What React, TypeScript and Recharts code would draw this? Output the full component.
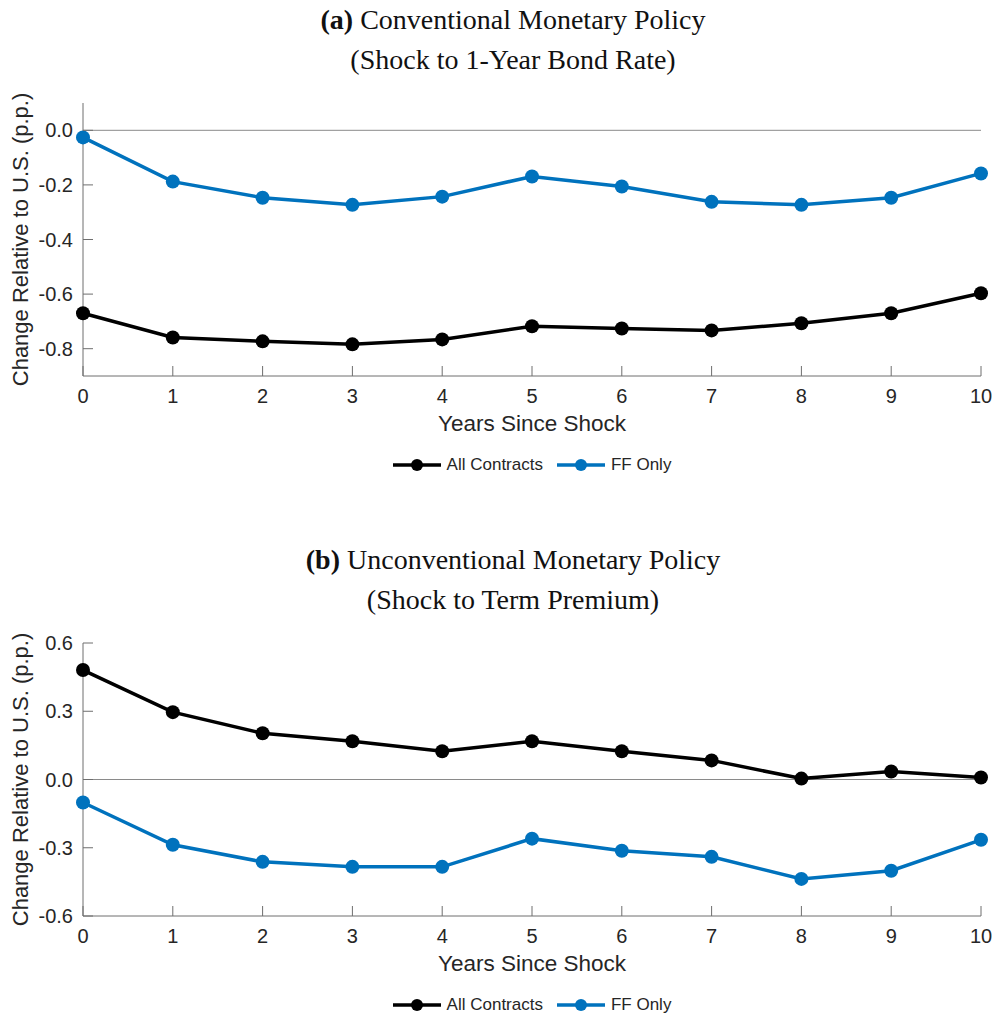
import { LineChart, Line, XAxis, YAxis, ReferenceLine, Legend, Label } from 'recharts';

const years = [0, 1, 2, 3, 4, 5, 6, 7, 8, 9, 10];

// (a) shock to the 1-year bond rate
const convAll = [-0.67, -0.759, -0.773, -0.784, -0.766, -0.718, -0.726, -0.733, -0.707, -0.67, -0.597];
const convFF = [-0.026, -0.188, -0.247, -0.273, -0.243, -0.169, -0.206, -0.262, -0.273, -0.247, -0.158];
const convTicks = [-0.8, -0.6, -0.4, -0.2, 0];

// (b) shock to the term premium
const uncAll = [0.481, 0.296, 0.203, 0.168, 0.124, 0.168, 0.124, 0.084, 0.004, 0.035, 0.009];
const uncFF = [-0.101, -0.287, -0.362, -0.384, -0.384, -0.26, -0.313, -0.34, -0.437, -0.401, -0.265];
const uncTicks = [-0.6, -0.3, 0, 0.3, 0.6];

const BLACK = '#000000';
const BLUE = '#0072BD';
const AXIS = '#6e6e6e';
const TEXT = '#262626';
const SANS = '"Liberation Sans", Arial, Helvetica, sans-serif';
const SERIF = '"Palatino Linotype", "Book Antiqua", Palatino, "Liberation Serif", serif';

const X_GAP = 13;
const Y_GAP = 10;
const TICK_LEN = 10;

const XTick = (props: any) => {
  const { x, y, payload } = props;
  const axisY = y - X_GAP;
  return (
    <g>
      <line x1={x} x2={x} y1={axisY} y2={axisY - TICK_LEN} stroke={AXIS} />
      <text x={x} y={y} dy="0.71em" textAnchor="middle" fill={TEXT} fontSize={20} fontFamily={SANS}>
        {payload.value}
      </text>
    </g>
  );
};

const YTick = (props: any) => {
  const { x, y, payload } = props;
  const axisX = x + Y_GAP;
  return (
    <g>
      <line x1={axisX} x2={axisX + TICK_LEN} y1={y} y2={y} stroke={AXIS} />
      <text x={x} y={y} dy="0.355em" textAnchor="end" fill={TEXT} fontSize={20} fontFamily={SANS}>
        {payload.value.toFixed(1)}
      </text>
    </g>
  );
};

const LegendIcon = ({ color }: { color: string }) => (
  <svg width={48} height={16} style={{ display: 'block' }}>
    <line x1={0} x2={48} y1={8} y2={8} stroke={color} strokeWidth={3.5} />
    <circle cx={24} cy={8} r={6} fill={color} />
  </svg>
);

const legendContent = () => (
  <div style={{ display: 'flex', justifyContent: 'center', alignItems: 'center', gap: 14, fontFamily: SANS, fontSize: 17, color: TEXT }}>
    <div style={{ display: 'flex', alignItems: 'center', gap: 6 }}>
      <LegendIcon color={BLACK} />
      <span>All Contracts</span>
    </div>
    <div style={{ display: 'flex', alignItems: 'center', gap: 6 }}>
      <LegendIcon color={BLUE} />
      <span>FF Only</span>
    </div>
  </div>
);

type PanelProps = {
  tag: string;
  title: string;
  subtitle: string;
  all: number[];
  ff: number[];
  domain: [number, number];
  ticks: number[];
  top: number;
};

function Panel({ tag, title, subtitle, all, ff, domain, ticks, top }: PanelProps) {
  const data = years.map((year, i) => ({ year, all: all[i], ff: ff[i] }));
  return (
    <div style={{ position: 'absolute', left: 0, top, width: 995, height: 540 }}>
      <div style={{ ...titleLine, top: 4 }}>
        <b>{tag}</b> {title}
      </div>
      <div style={{ ...titleLine, top: 44 }}>{subtitle}</div>
      <LineChart width={995} height={540} data={data} margin={{ top: 103, right: 14, left: 0, bottom: 104 }}>
        <XAxis
          dataKey="year"
          type="number"
          domain={[0, 10]}
          ticks={years}
          height={60}
          stroke={AXIS}
          tickLine={false}
          tickSize={0}
          tickMargin={X_GAP}
          tick={<XTick />}
        >
          <Label value="Years Since Shock" position="insideTop" offset={39} fill={TEXT} fontSize={22.5} fontFamily={SANS} />
        </XAxis>
        <YAxis
          type="number"
          domain={domain}
          ticks={ticks}
          width={83}
          stroke={AXIS}
          tickLine={false}
          tickSize={0}
          tickMargin={Y_GAP}
          tick={<YTick />}
        >
          <Label
            value="Change Relative to U.S. (p.p.)"
            angle={-90}
            position="insideLeft"
            offset={20}
            fill={TEXT}
            fontSize={22}
            fontFamily={SANS}
            style={{ textAnchor: 'middle' }}
          />
        </YAxis>
        <ReferenceLine y={0} stroke="#8a8a8a" strokeWidth={1} />
        <Line dataKey="all" name="All Contracts" stroke={BLACK} strokeWidth={3.5} dot={{ r: 7, fill: BLACK, stroke: BLACK, strokeWidth: 0 }} isAnimationActive={false} />
        <Line dataKey="ff" name="FF Only" stroke={BLUE} strokeWidth={3.5} dot={{ r: 7, fill: BLUE, stroke: BLUE, strokeWidth: 0 }} isAnimationActive={false} />
        <Legend
          layout="horizontal"
          verticalAlign="middle"
          align="center"
          content={legendContent}
          wrapperStyle={{ top: 455, left: 83, width: 898, height: 24 }}
        />
      </LineChart>
    </div>
  );
}

export default function App() {
  return (
    <div style={{ position: 'absolute', left: 0, top: 0, width: 995, height: 1015, background: '#fff' }}>
      <Panel
        tag="(a)"
        title="Conventional Monetary Policy"
        subtitle="(Shock to 1-Year Bond Rate)"
        all={convAll}
        ff={convFF}
        domain={[-0.9, 0.1]}
        ticks={convTicks}
        top={0}
      />
      <Panel
        tag="(b)"
        title="Unconventional Monetary Policy"
        subtitle="(Shock to Term Premium)"
        all={uncAll}
        ff={uncFF}
        domain={[-0.6, 0.6]}
        ticks={uncTicks}
        top={540}
      />
    </div>
  );
}

const titleLine = {
  position: 'absolute' as const,
  left: 0,
  width: 1026,
  textAlign: 'center' as const,
  fontFamily: SERIF,
  fontSize: 28,
  lineHeight: '32px',
  color: '#111',
  zIndex: 1
};
